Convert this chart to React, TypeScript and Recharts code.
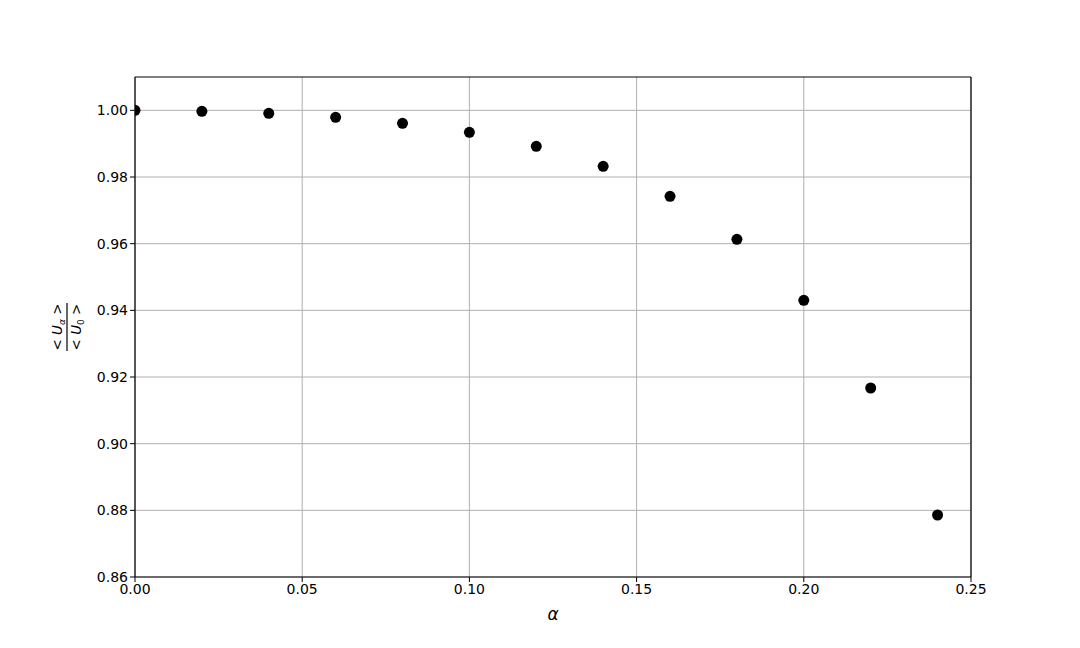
import { CartesianGrid, ReferenceLine, Scatter, ScatterChart, XAxis, YAxis } from "recharts";

const ALPHAS = [0, 0.02, 0.04, 0.06, 0.08, 0.1, 0.12, 0.14, 0.16, 0.18, 0.2, 0.22, 0.24];
const RATIOS = [1.0, 0.9997, 0.9991, 0.9979, 0.9961, 0.9934, 0.9892, 0.9832, 0.9742, 0.9613, 0.943, 0.9167, 0.8786];
const X_TICKS = [0, 0.05, 0.1, 0.15, 0.2, 0.25];
const Y_TICKS = [0.86, 0.88, 0.9, 0.92, 0.94, 0.96, 0.98, 1.0];

const data = ALPHAS.map((alpha, i) => ({ alpha, ratio: RATIOS[i] }));

const FONT = "DejaVu Sans, sans-serif";

// plot box, matches the chart margins below
const PLOT = { x: 135, y: 77, w: 836, h: 500 };

function Dot(props: any) {
	const { cx, cy } = props;
	return <circle cx={cx} cy={cy} r={5.5} fill="#000" clipPath="url(#plot-clip)" />;
}

function YLabel() {
	const cx = 67;
	const cy = 327;
	return (
		<g>
			<defs>
				<clipPath id="plot-clip">
					<rect x={PLOT.x} y={PLOT.y} width={PLOT.w} height={PLOT.h} />
				</clipPath>
			</defs>
			<g transform={`rotate(-90, ${cx}, ${cy})`} fontFamily={FONT} fontSize={13.5} fill="#000">
				<text x={cx} y={cy - 5} textAnchor="middle">
					{"< "}
					<tspan fontStyle="italic">U</tspan>
					<tspan fontStyle="italic" fontSize={9} dy={3}>α</tspan>
					<tspan dy={-3}>{" >"}</tspan>
				</text>
				<line x1={cx - 24} x2={cx + 24} y1={cy} y2={cy} stroke="#000" strokeWidth={1.2} />
				<text x={cx} y={cy + 14} textAnchor="middle">
					{"< "}
					<tspan fontStyle="italic">U</tspan>
					<tspan fontSize={9} dy={3}>0</tspan>
					<tspan dy={-3}>{" >"}</tspan>
				</text>
			</g>
		</g>
	);
}

export default function App() {
	return (
		<div style={{ position: "absolute", left: 0, top: 0, background: "#fff" }}>
			<ScatterChart width={1080} height={648} margin={{ top: 77, right: 109, left: 75, bottom: 31 }}>
				<CartesianGrid stroke="#b0b0b0" strokeWidth={1} horizontalValues={Y_TICKS} verticalValues={X_TICKS} />
				<XAxis
					type="number"
					dataKey="alpha"
					domain={[0, 0.25]}
					ticks={X_TICKS}
					allowDataOverflow
					tickFormatter={(v) => Number(v).toFixed(2)}
					tick={{ fontSize: 14, fill: "#000", fontFamily: FONT }}
					tickSize={5}
					tickLine={{ stroke: "#000" }}
					axisLine={{ stroke: "#000", strokeWidth: 1.2 }}
					height={40}
					label={{ value: "α", position: "insideBottom", offset: -3, fontSize: 17, fontStyle: "italic", fill: "#000", fontFamily: FONT }}
				/>
				<YAxis
					type="number"
					dataKey="ratio"
					domain={[0.86, 1.01]}
					ticks={Y_TICKS}
					allowDataOverflow
					tickFormatter={(v) => Number(v).toFixed(2)}
					tick={{ fontSize: 14, fill: "#000", fontFamily: FONT }}
					tickSize={5}
					tickLine={{ stroke: "#000" }}
					axisLine={{ stroke: "#000", strokeWidth: 1.2 }}
					width={60}
					label={{ content: () => <YLabel /> }}
				/>
				<ReferenceLine y={1.01} stroke="#000" strokeWidth={1.2} />
				<ReferenceLine x={0.25} stroke="#000" strokeWidth={1.2} />
				<Scatter data={data} shape={<Dot />} isAnimationActive={false} />
			</ScatterChart>
		</div>
	);
}
